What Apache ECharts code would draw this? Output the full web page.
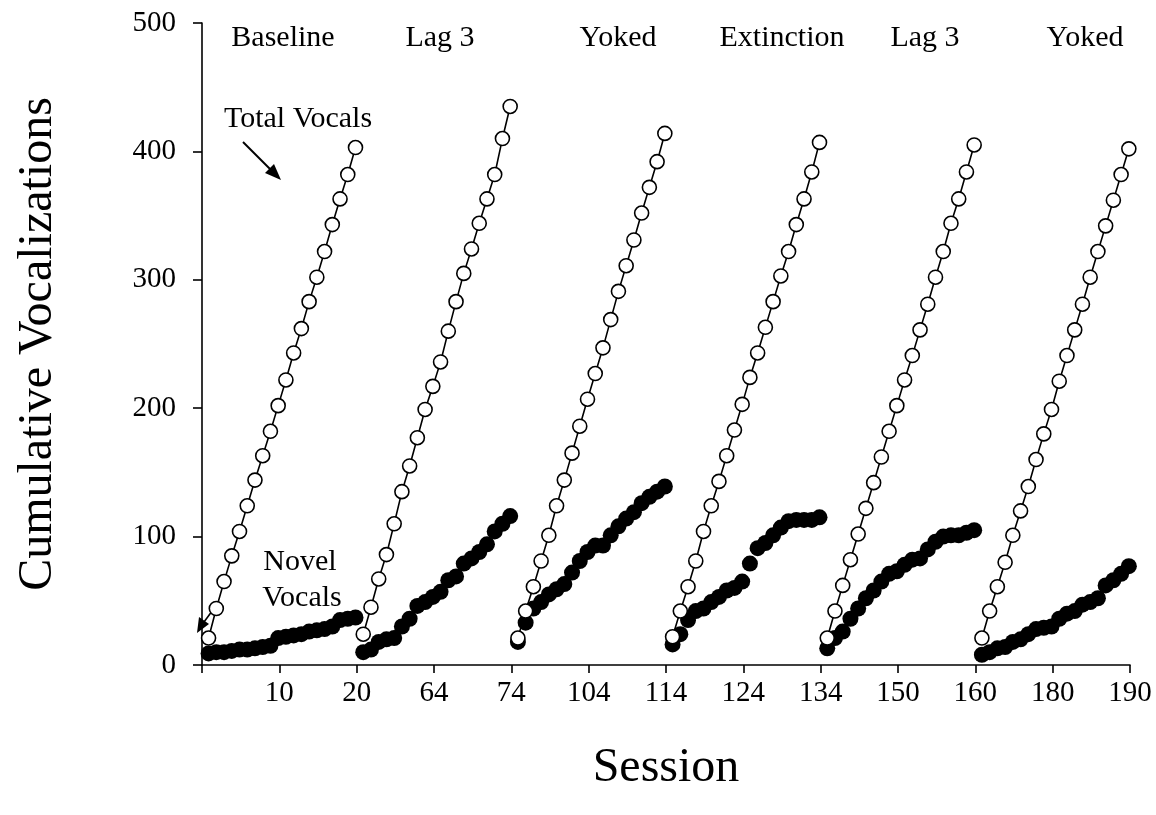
<!DOCTYPE html>
<html>
<head>
<meta charset="utf-8">
<script src="https://cdn.jsdelivr.net/npm/echarts@6/dist/echarts.min.js"></script>
<style>
html,body{margin:0;padding:0;background:#fff;}
#chart{width:1156px;height:815px;}
</style>
</head>
<body>
<div id="chart"></div>
<script>
// ---- Data ----
const tickLabels = ['', '10', '20', '64', '74', '104', '114', '124', '134', '150', '160', '180', '190'];
const phaseNames = ['Baseline', 'Lag 3', 'Yoked', 'Extinction', 'Lag 3', 'Yoked'];

const baselineTotal = [21,44,65,85,104,124,144,163,182,202,222,243,262,283,302,322,343,363,382,403];
const baselineNovel = [9,10,10,11,12,12,13,14,15,21,22,23,24,26,27,28,30,35,36,37];
const lag3aTotal = [24,45,67,86,110,135,155,177,199,217,236,260,283,305,324,344,363,382,410,435];
const lag3aNovel = [10,12,18,20,21,30,36,46,49,53,57,66,69,79,83,88,94,104,110,116];
const yokedaTotal = [21,42,61,81,101,124,144,165,186,207,227,247,269,291,311,331,352,372,392,414];
const yokedaNovel = [18,33,44,49,55,59,63,72,81,88,93,93,101,108,114,119,126,131,135,139];
const extinctionTotal = [22,42,61,81,104,124,143,163,183,203,224,243,263,283,303,322,343,363,384,407];
const extinctionNovel = [16,24,35,42,44,49,53,58,60,65,79,91,95,101,107,112,113,113,113,115];
const lag3bTotal = [21,42,62,82,102,122,142,162,182,202,222,241,261,281,302,322,344,363,384,405];
const lag3bNovel = [13,21,26,36,44,52,58,65,71,73,78,82,83,90,96,100,101,101,103,105];
const yokedbTotal = [21,42,61,80,101,120,139,160,180,199,221,241,261,281,302,322,342,362,382,402];
const yokedbNovel = [8,10,13,14,18,20,24,28,29,30,36,40,42,47,49,52,62,66,71,77];

const totals = [baselineTotal, lag3aTotal, yokedaTotal, extinctionTotal, lag3bTotal, yokedbTotal];
const novels = [baselineNovel, lag3aNovel, yokedaNovel, extinctionNovel, lag3bNovel, yokedbNovel];

// ---- Build ----
const FONT = "'Liberation Serif', 'Times New Roman', serif";
const PHASE_LEN = 20;
const OFFSET = 0.85;
function toPairs(arr, k) {
  return arr.map((v, j) => [k * PHASE_LEN + j + OFFSET, v]);
}

const series = [];
novels.forEach((arr, k) => {
  series.push({
    type: 'scatter',
    data: toPairs(arr, k),
    symbol: 'circle',
    symbolSize: 16,
    itemStyle: { color: '#000', opacity: 1 },
    z: 2,
    silent: true
  });
});
totals.forEach((arr, k) => {
  series.push({
    type: 'line',
    data: toPairs(arr, k),
    symbol: 'circle',
    symbolSize: 14,
    showSymbol: true,
    showAllSymbol: true,
    itemStyle: { color: '#fff', borderColor: '#000', borderWidth: 1.6 },
    lineStyle: { color: '#000', width: 1.6 },
    z: 3,
    silent: true
  });
});

const phaseX = [283, 440, 618, 782, 925, 1085];

const chart = echarts.init(document.getElementById('chart'), null, { renderer: 'canvas' });
chart.setOption({
  animation: false,
  backgroundColor: '#fff',
  grid: { left: 202, right: 26, top: 23, bottom: 150, containLabel: false, outerBoundsMode: 'none' },
  xAxis: {
    type: 'value',
    min: 0, max: 120, interval: 10,
    name: 'Session',
    nameLocation: 'middle',
    nameGap: 79,
    nameTextStyle: { fontFamily: FONT, fontSize: 48, color: '#000' },
    axisLine: { show: true, onZero: false, lineStyle: { color: '#000', width: 1.6 } },
    axisTick: { show: true, inside: false, length: 8, lineStyle: { color: '#000', width: 1.6 } },
    axisLabel: {
      margin: 14,
      fontFamily: FONT, fontSize: 29, color: '#000',
      formatter: function (v) { return tickLabels[Math.round(v / 10)] || ''; }
    },
    splitLine: { show: false }
  },
  yAxis: {
    type: 'value',
    min: 0, max: 500, interval: 100,
    name: 'Cumulative Vocalizations',
    nameLocation: 'middle',
    nameGap: 140,
    nameRotate: 90,
    nameTextStyle: { fontFamily: FONT, fontSize: 48, color: '#000' },
    axisLine: { show: true, lineStyle: { color: '#000', width: 1.6 } },
    axisTick: { show: true, inside: false, length: 9, lineStyle: { color: '#000', width: 1.6 } },
    axisLabel: { margin: 26, fontFamily: FONT, fontSize: 29, color: '#000' },
    splitLine: { show: false }
  },
  graphic: [
    ...phaseNames.map((name, i) => ({
      type: 'text', x: phaseX[i], y: 38,
      style: { text: name, font: '30px ' + FONT, fill: '#000', align: 'center', verticalAlign: 'middle' },
      silent: true
    })),
    { type: 'text', x: 298, y: 119,
      style: { text: 'Total Vocals', font: '30px ' + FONT, fill: '#000', align: 'center', verticalAlign: 'middle' } },
    { type: 'text', x: 300, y: 562,
      style: { text: 'Novel', font: '30px ' + FONT, fill: '#000', align: 'center', verticalAlign: 'middle' } },
    { type: 'text', x: 302, y: 598,
      style: { text: 'Vocals', font: '30px ' + FONT, fill: '#000', align: 'center', verticalAlign: 'middle' } },
    // Total Vocals arrow
    { type: 'line', shape: { x1: 243, y1: 142, x2: 270, y2: 169 }, style: { stroke: '#000', lineWidth: 2 } },
    { type: 'polygon', shape: { points: [[281, 180], [265, 173], [274, 164]] }, style: { fill: '#000' } },
    // Novel Vocals arrow
    { type: 'line', shape: { x1: 218, y1: 603, x2: 204, y2: 622 }, style: { stroke: '#000', lineWidth: 1.6 } },
    { type: 'polygon', shape: { points: [[197, 633], [199, 617], [209, 624]] }, style: { fill: '#000' } }
  ],
  series: series
});
</script>
</body>
</html>
